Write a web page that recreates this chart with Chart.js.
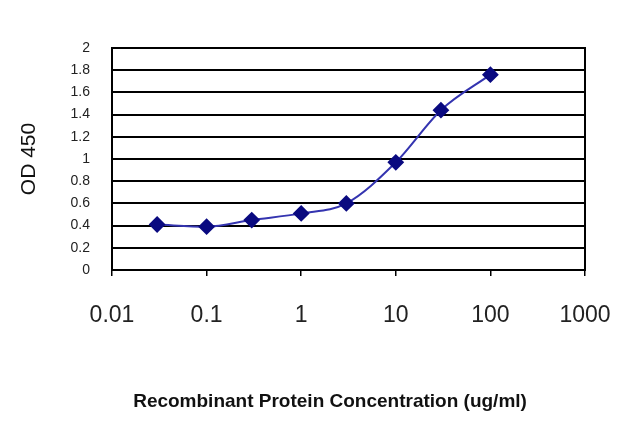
<!DOCTYPE html>
<html><head><meta charset="utf-8">
<script src="https://cdn.jsdelivr.net/npm/chart.js@4/dist/chart.umd.min.js"></script>
<style>html,body{margin:0;padding:0;background:#fff;}#wrap{width:640px;height:427px;}</style>
</head><body><div id="wrap"><canvas id="c" width="640" height="427"></canvas></div>
<script>
const concentrations = [0.03, 0.1, 0.3, 1, 3, 10, 30, 100];
const odValues = [0.41, 0.39, 0.45, 0.51, 0.60, 0.97, 1.44, 1.76];
const xTickValues = [0.01, 0.1, 1, 10, 100, 1000];
const xTickLabels = ['0.01', '0.1', '1', '10', '100', '1000'];
const yTickLabels = ['0','0.2','0.4','0.6','0.8','1','1.2','1.4','1.6','1.8','2'];
const xTitle = 'Recombinant Protein Concentration (ug/ml)';
const yTitle = 'OD 450';

const font = "'Liberation Sans',Arial,sans-serif";

new Chart(document.getElementById('c'), {
  type: 'line',
  data: {
    datasets: [{
      data: concentrations.map((x, i) => ({x: x, y: odValues[i]})),
      borderColor: '#3434b0',
      borderWidth: 2,
      backgroundColor: '#0a0a80',
      pointStyle: 'rectRot',
      pointRadius: 7,
      pointBorderColor: '#0a0a80',
      cubicInterpolationMode: 'monotone'
    }]
  },
  options: {
    responsive: false,
    animation: false,
    layout: {padding: {top: 48, right: 55, bottom: 10, left: 0}},
    plugins: {legend: {display: false}, tooltip: {enabled: false}},
    scales: {
      x: {
        type: 'logarithmic',
        min: 0.01, max: 1000,
        afterBuildTicks: s => { s.ticks = xTickValues.map(v => ({value: v})); },
        afterFit: s => { s.height = 147; },
        ticks: {
          callback: (v, i) => xTickLabels[i],
          color: '#222',
          font: {family: font, size: 23},
          maxRotation: 0, autoSkip: false, padding: 26
        },
        grid: {drawOnChartArea: false, color: '#000', lineWidth: 1.5, tickLength: 6},
        border: {color: '#000', width: 2},
        title: {display: true, text: xTitle + '\u00a0\u00a0\u00a0\u00a0\u00a0\u00a0\u00a0', color: '#111',
          font: {family: font, size: 19, weight: 'bold'}, padding: {top: 60}}
      },
      y: {
        min: 0, max: 2,
        afterFit: s => { s.width = 112; },
        ticks: {
          stepSize: 0.2,
          callback: (v, i) => yTickLabels[i],
          color: '#222',
          font: {family: font, size: 14},
          padding: 22
        },
        grid: {color: '#000', lineWidth: 2, tickLength: 0},
        border: {color: '#000', width: 2},
        title: {display: true, text: yTitle, color: '#111',
          font: {family: font, size: 21}, padding: {top: 17, bottom: 0}}
      }
    }
  },
  plugins: [{
    id: 'frame',
    afterDraw(chart) {
      const a = chart.chartArea, ctx = chart.ctx;
      ctx.save(); ctx.strokeStyle = '#000'; ctx.lineWidth = 2;
      ctx.strokeRect(a.left, a.top, a.right - a.left, a.bottom - a.top);
      ctx.restore();
    }
  }]
});
</script></body></html>
